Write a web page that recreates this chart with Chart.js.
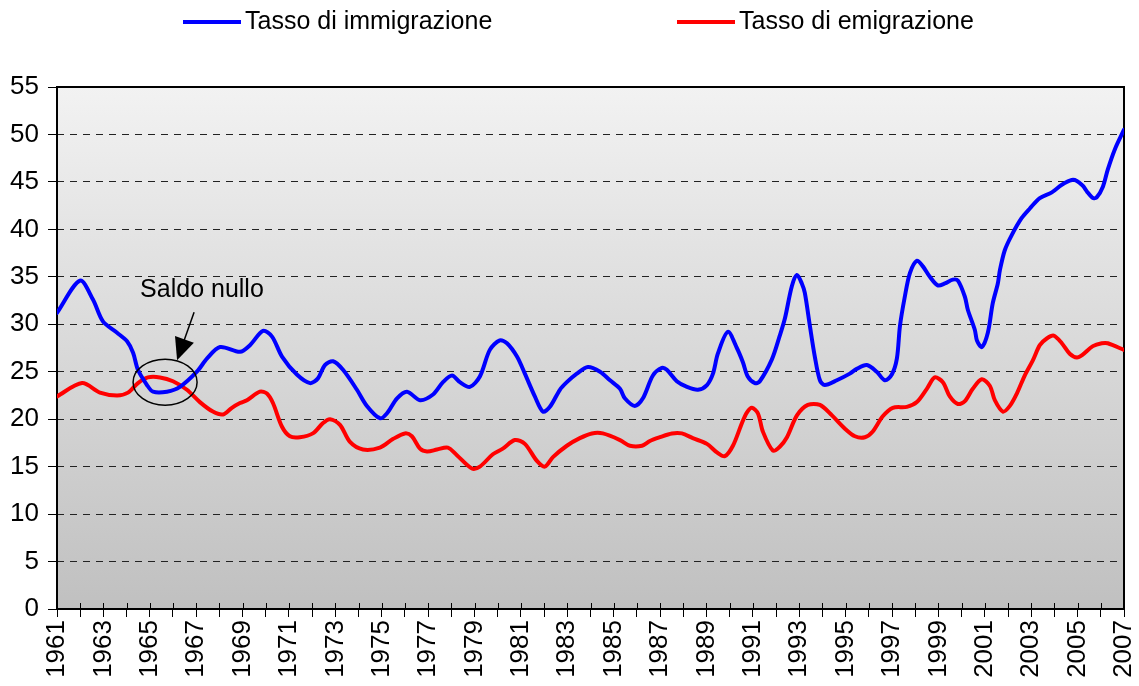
<!DOCTYPE html>
<html>
<head>
<meta charset="utf-8">
<title>Tasso di immigrazione ed emigrazione</title>
<script src="https://cdn.jsdelivr.net/npm/chart.js@4"></script>
<style>
  html, body { margin: 0; padding: 0; background: #fff; }
  #wrap { width: 1139px; height: 686px; }
</style>
</head>
<body>
<div id="wrap"><canvas id="chart" width="1139" height="686"></canvas></div>
<script>
// rates per 1000 (x = year, fractional)
const immigYears = [1961.00, 1961.99, 1962.55, 1962.98, 1963.59, 1964.02, 1964.28, 1964.49, 1964.88, 1965.14,
  1965.74, 1966.30, 1967.03, 1967.47, 1968.03, 1968.89, 1969.32, 1969.88, 1970.27, 1970.70,
  1971.34, 1971.91, 1972.25, 1972.55, 1972.90, 1973.33, 1973.93, 1974.36, 1974.92, 1975.22,
  1975.66, 1976.09, 1976.65, 1977.21, 1977.64, 1978.03, 1978.37, 1978.80, 1979.23, 1979.66,
  1980.09, 1980.40, 1980.83, 1981.17, 1981.60, 1981.95, 1982.25, 1982.68, 1982.98, 1983.41,
  1983.89, 1984.41, 1984.84, 1985.27, 1985.48, 1985.91, 1986.26, 1986.69, 1987.08, 1987.29,
  1987.72, 1988.16, 1988.63, 1989.02, 1989.28, 1989.49, 1989.92, 1990.31, 1990.57, 1990.78,
  1991.09, 1991.30, 1991.82, 1992.16, 1992.38, 1992.68, 1992.90, 1993.11, 1993.24, 1993.46,
  1993.67, 1993.89, 1994.10, 1994.62, 1995.18, 1995.48, 1995.91, 1996.34, 1996.69, 1996.99,
  1997.21, 1997.34, 1997.55, 1997.77, 1998.07, 1998.33, 1998.63, 1998.97, 1999.28, 1999.62,
  1999.84, 2000.14, 2000.27, 2000.57, 2000.66, 2000.87, 2001.13, 2001.34, 2001.56, 2001.65,
  2001.86, 2002.16, 2002.59, 2002.94, 2003.37, 2003.89, 2004.32, 2004.75, 2004.97, 2005.22,
  2005.40, 2005.66, 2005.83, 2006.09, 2006.30, 2006.60, 2007.00];
const immigRate = [31.2, 34.6, 32.6, 30.3, 29.1, 28.2, 27.0, 25.2, 23.6, 22.9,
  22.9, 23.4, 25.0, 26.4, 27.6, 27.1, 27.8, 29.3, 28.7, 26.6,
  24.7, 23.8, 24.3, 25.7, 26.1, 25.2, 23.1, 21.4, 20.1, 20.6,
  22.2, 22.9, 22.0, 22.6, 23.9, 24.6, 23.9, 23.4, 24.5, 27.3,
  28.3, 28.0, 26.6, 24.8, 22.4, 20.8, 21.3, 23.1, 23.9, 24.8,
  25.5, 25.0, 24.1, 23.2, 22.2, 21.4, 22.2, 24.6, 25.4, 25.2,
  24.0, 23.4, 23.1, 23.6, 24.8, 26.9, 29.2, 27.5, 26.0, 24.5,
  23.8, 24.0, 26.3, 28.8, 30.6, 34.0, 35.2, 34.3, 33.3, 29.8,
  26.6, 24.1, 23.6, 24.1, 24.8, 25.3, 25.7, 25.0, 24.1, 24.7,
  26.4, 29.8, 32.9, 35.4, 36.7, 36.1, 35.0, 34.1, 34.3, 34.7,
  34.6, 32.9, 31.5, 29.4, 28.3, 27.6, 29.1, 32.2, 34.3, 35.7,
  37.8, 39.4, 41.2, 42.2, 43.3, 43.9, 44.7, 45.2, 45.1, 44.6,
  44.0, 43.3, 43.4, 44.5, 46.3, 48.4, 50.5];

const emigYears = [1961.00, 1962.08, 1962.85, 1963.59, 1964.06, 1964.49, 1964.92, 1965.44, 1966.00, 1966.60,
  1967.16, 1967.72, 1968.16, 1968.54, 1968.89, 1969.19, 1969.75, 1970.05, 1970.31, 1970.70,
  1971.04, 1971.47, 1972.03, 1972.47, 1972.77, 1973.20, 1973.63, 1974.19, 1974.92, 1975.48,
  1976.00, 1976.30, 1976.65, 1976.95, 1977.38, 1977.85, 1978.24, 1978.89, 1979.23, 1979.79,
  1980.22, 1980.74, 1981.17, 1981.69, 1982.03, 1982.38, 1982.98, 1983.54, 1984.06, 1984.53,
  1985.27, 1985.70, 1986.22, 1986.56, 1986.99, 1987.51, 1987.94, 1988.41, 1989.02, 1989.45,
  1989.79, 1990.14, 1990.53, 1990.74, 1990.96, 1991.22, 1991.43, 1991.86, 1992.16, 1992.47,
  1992.90, 1993.37, 1993.89, 1994.41, 1994.97, 1995.40, 1995.83, 1996.17, 1996.60, 1997.03,
  1997.64, 1998.07, 1998.50, 1998.84, 1999.19, 1999.49, 1999.84, 2000.14, 2000.48, 2000.87,
  2001.22, 2001.43, 2001.78, 2002.08, 2002.38, 2002.72, 2003.07, 2003.37, 2003.67, 2003.97,
  2004.32, 2004.66, 2004.97, 2005.22, 2005.66, 2006.04, 2006.30, 2007.00];
const emigRate = [22.4, 23.8, 22.8, 22.5, 22.8, 23.8, 24.4, 24.4, 24.0, 23.1,
  21.8, 20.8, 20.5, 21.2, 21.7, 22.0, 22.9, 22.7, 21.7, 19.2,
  18.2, 18.1, 18.5, 19.6, 20.0, 19.4, 17.6, 16.8, 17.0, 17.9,
  18.5, 18.2, 16.9, 16.6, 16.8, 17.0, 16.2, 14.8, 15.0, 16.3,
  16.9, 17.8, 17.4, 15.6, 15.0, 16.0, 17.2, 18.0, 18.5, 18.5,
  17.8, 17.2, 17.2, 17.7, 18.1, 18.5, 18.5, 18.0, 17.4, 16.5,
  16.1, 17.2, 19.6, 20.7, 21.2, 20.6, 18.7, 16.7, 17.1, 18.1,
  20.4, 21.5, 21.5, 20.4, 19.0, 18.2, 18.1, 18.7, 20.3, 21.2,
  21.3, 21.8, 23.2, 24.4, 23.9, 22.4, 21.6, 21.9, 23.2, 24.2,
  23.5, 22.0, 20.8, 21.4, 22.7, 24.6, 26.2, 27.8, 28.5, 28.8,
  28.0, 26.9, 26.5, 26.8, 27.7, 28.0, 28.0, 27.3];

const seriesNames = ['Tasso di immigrazione', 'Tasso di emigrazione'];
const yearLabels = ['1961', '1963', '1965', '1967', '1969', '1971', '1973', '1975', '1977', '1979', '1981', '1983',
  '1985', '1987', '1989', '1991', '1993', '1995', '1997', '1999', '2001', '2003', '2005', '2007'];
const yTicks = [0, 5, 10, 15, 20, 25, 30, 35, 40, 45, 50, 55];

// annotation: zero net migration around 1965-66
const noteText = 'Saldo nullo';
const notePoint = { x: 1965.66, y: 23.9 };

const FONT = '"Liberation Sans", Arial, Helvetica, sans-serif';

const toXY = (xs, ys) => xs.map((x, i) => ({ x, y: ys[i] }));

// grey gradient behind the plot + frame
const plotBg = {
  id: 'plotBg',
  beforeDraw(chart) {
    const { ctx, chartArea: a } = chart;
    const g = ctx.createLinearGradient(0, a.top, 0, a.bottom);
    g.addColorStop(0, '#f2f2f2');
    g.addColorStop(1, '#c0c0c0');
    ctx.save();
    ctx.fillStyle = g;
    ctx.fillRect(a.left, a.top, a.right - a.left, a.bottom - a.top);
    ctx.restore();
  },
  beforeDatasetsDraw(chart) {
    const { ctx, chartArea: a, scales } = chart;
    ctx.save();
    ctx.strokeStyle = '#000';
    ctx.lineWidth = 2;
    ctx.strokeRect(a.left, a.top, a.right - a.left, a.bottom - a.top);
    // small marks inside the x axis too (they cross the axis)
    ctx.lineWidth = 1;
    scales.x.ticks.forEach(t => {
      const px = Math.round(scales.x.getPixelForValue(t.value)) + 0.5;
      ctx.beginPath();
      ctx.moveTo(px, a.bottom);
      ctx.lineTo(px, a.bottom - 6);
      ctx.stroke();
    });
    ctx.restore();
  }
};

// legend line + label, as in the original spreadsheet chart
const topLegend = {
  id: 'topLegend',
  afterDraw(chart) {
    const ctx = chart.ctx;
    const starts = [183, 677];
    ctx.save();
    ctx.font = '25px ' + FONT;
    ctx.textBaseline = 'middle';
    chart.data.datasets.forEach((ds, i) => {
      const x = starts[i], y = 22;
      ctx.strokeStyle = ds.borderColor;
      ctx.lineWidth = 4;
      ctx.beginPath();
      ctx.moveTo(x, y);
      ctx.lineTo(x + 58, y);
      ctx.stroke();
      ctx.fillStyle = '#000';
      ctx.fillText(ds.label, x + 62, y);
    });
    ctx.restore();
  }
};

// ellipse + arrow + text
const noteLayer = {
  id: 'noteLayer',
  afterDatasetsDraw(chart) {
    const { ctx, scales: { x, y } } = chart;
    const cx = x.getPixelForValue(notePoint.x);
    const cy = y.getPixelForValue(notePoint.y);
    ctx.save();
    ctx.strokeStyle = '#000';
    ctx.fillStyle = '#000';
    ctx.lineWidth = 1.5;
    ctx.beginPath();
    ctx.ellipse(cx, cy, 32, 23, 0, 0, Math.PI * 2);
    ctx.stroke();

    // arrow from the label down to the ellipse
    const x0 = cx + 29, y0 = cy - 70;
    const x1 = cx + 12, y1 = cy - 22;
    const ang = Math.atan2(y1 - y0, x1 - x0);
    ctx.beginPath();
    ctx.moveTo(x0, y0);
    ctx.lineTo(x1 - 18 * Math.cos(ang), y1 - 18 * Math.sin(ang));
    ctx.stroke();
    ctx.beginPath();
    ctx.moveTo(x1, y1);
    ctx.lineTo(x1 - 22 * Math.cos(ang) + 10 * Math.sin(ang), y1 - 22 * Math.sin(ang) - 10 * Math.cos(ang));
    ctx.lineTo(x1 - 22 * Math.cos(ang) - 10 * Math.sin(ang), y1 - 22 * Math.sin(ang) + 10 * Math.cos(ang));
    ctx.closePath();
    ctx.fill();

    ctx.font = '25px ' + FONT;
    ctx.textBaseline = 'alphabetic';
    ctx.fillText(noteText, cx - 25, cy - 85);
    ctx.restore();
  }
};

new Chart(document.getElementById('chart'), {
  type: 'line',
  data: {
    datasets: [
      { label: seriesNames[0], data: toXY(immigYears, immigRate), borderColor: '#0000ff', borderWidth: 4 },
      { label: seriesNames[1], data: toXY(emigYears, emigRate), borderColor: '#ff0000', borderWidth: 4 }
    ]
  },
  options: {
    responsive: false,
    animation: false,
    devicePixelRatio: 1,
    layout: { padding: { top: 87, right: 15, left: 0, bottom: 0 } },
    elements: {
      point: { radius: 0 },
      line: { tension: 0.3, borderCapStyle: 'round', borderJoinStyle: 'round', fill: false }
    },
    plugins: {
      legend: { display: false },
      tooltip: { enabled: false }
    },
    scales: {
      x: {
        type: 'linear',
        min: 1961,
        max: 2007,
        afterFit: s => { s.height = 77; s.paddingRight = 0; s.paddingLeft = 0; },
        grid: { drawOnChartArea: false, drawTicks: true, tickLength: 8, tickColor: '#000', lineWidth: 1 },
        border: { display: false },
        ticks: {
          stepSize: 1,
          autoSkip: false,
          minRotation: 90,
          maxRotation: 90,
          padding: 3,
          color: '#000',
          font: { family: FONT, size: 26 },
          callback: v => yearLabels.includes(String(v)) ? String(v) : ''
        }
      },
      y: {
        min: 0,
        max: 55,
        afterFit: s => { s.width = 57; s.paddingTop = 0; s.paddingBottom = 0; },
        afterBuildTicks: s => { s.ticks = yTicks.map(v => ({ value: v })); },
        grid: {
          color: c => (c.tick && (c.tick.value === 0 || c.tick.value === 55)) ? 'rgba(0,0,0,0)' : '#222',
          tickColor: '#000',
          tickLength: 9,
          lineWidth: 1
        },
        border: { display: false, dash: [7, 6] },
        ticks: {
          padding: 9,
          color: '#000',
          font: { family: FONT, size: 26 }
        }
      }
    }
  },
  plugins: [plotBg, noteLayer, topLegend]
});
</script>
</body>
</html>
